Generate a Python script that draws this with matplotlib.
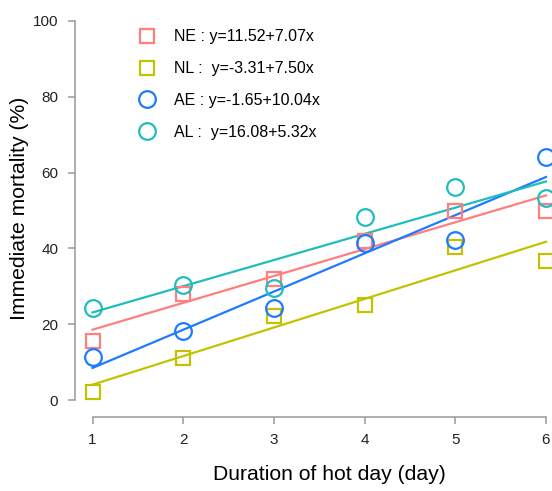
import matplotlib
matplotlib.use("Agg")
import matplotlib.pyplot as plt
import numpy as np

plt.rcParams['font.family'] = ['Liberation Sans', 'DejaVu Sans']

days = [1, 2, 3, 4, 5, 6]
groups = ["NE", "NL", "AE", "AL"]
NE = [15.6, 28.0, 32.0, 42.0, 50.0, 50.0]
NL = [2.1, 11.0, 22.2, 25.0, 40.4, 36.7]
AE = [11.4, 18.3, 24.4, 41.4, 42.2, 64.2]
AL = [24.4, 30.3, 29.5, 48.4, 56.3, 53.4]
legend_labels = ["NE : y=11.52+7.07x", "NL :  y=-3.31+7.50x",
                 "AE : y=-1.65+10.04x", "AL :  y=16.08+5.32x"]
yticks = [0, 20, 40, 60, 80, 100]

colors = ["#FF7F7F", "#C2C200", "#1E7BFF", "#20BDBD"]
markers = ["s", "s", "o", "o"]
msizes = [10.5, 10.5, 12.0, 12.0]
series = [NE, NL, AE, AL]

fig = plt.figure(figsize=(5.52, 4.91), dpi=100)
ax = fig.add_axes([75/552, 1 - 416.7/491, 1 - 75/552, (416.7 - 10)/491])
x0 = 1 - 17.5/90.7
x1 = 6 + 6/90.7
ax.set_xlim(x0, x1)
ax.set_ylim(-16.7/3.79, 100 + 11/3.79)

handles = []
xs = np.array(days, dtype=float)
for vals, c, m, ms, lab in zip(series, colors, markers, msizes, legend_labels):
    b1, b0 = np.polyfit(xs, np.array(vals), 1)
    ax.plot(xs, b0 + b1 * xs, color=c, lw=1.6, clip_on=False, zorder=2)
    h, = ax.plot(days, vals, linestyle="none", marker=m, markersize=ms,
                 markerfacecolor="none", markeredgecolor=c, markeredgewidth=1.6,
                 clip_on=False, zorder=3, label=lab)
    handles.append(h)

leg = ax.legend(handles=handles, loc="upper left", bbox_to_anchor=(0.118, 0.968),
                frameon=False, fontsize=11.5, labelspacing=1.05, handlelength=1.2,
                handletextpad=1.05, borderaxespad=0)

for s in ["top", "right"]:
    ax.spines[s].set_visible(False)
for s in ["left", "bottom"]:
    ax.spines[s].set_color("#999999")
    ax.spines[s].set_linewidth(1.1)
ax.spines["left"].set_bounds(0, 100)
ax.spines["bottom"].set_bounds(1, 6)
ax.set_xticks(days)
ax.set_yticks(yticks)
ax.tick_params(axis="both", direction="out", length=5, width=1.1, color="#999999",
               labelsize=11, labelcolor="#222222", pad=7)
ax.set_xlabel("Duration of hot day (day)", fontsize=15.2)
ax.set_ylabel("Immediate mortality (%)", fontsize=15.2)
ax.xaxis.set_label_coords((329 - 75) / 477, (416.7 - 475) / 406.7)
ax.xaxis.label.set_verticalalignment("center")
ax.yaxis.set_label_coords((20 - 75) / 477, (416.7 - 208) / 406.7)
ax.yaxis.label.set_verticalalignment("center")

fig.savefig("out.png", dpi=100)
